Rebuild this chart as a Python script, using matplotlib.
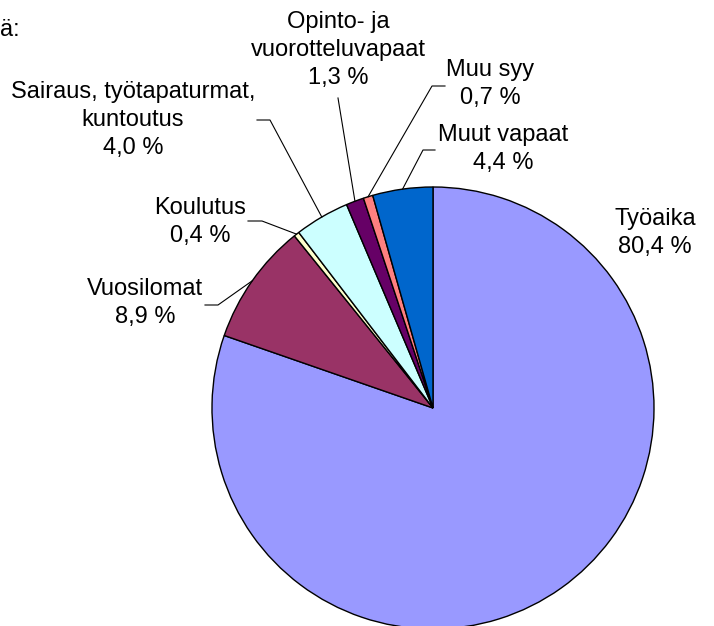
import matplotlib
matplotlib.use('Agg')
import matplotlib.pyplot as plt
import numpy as np

plt.rcParams['font.family'] = ['Liberation Sans', 'DejaVu Sans']

# Data
labels = ['Työaika', 'Vuosilomat', 'Koulutus', 'Sairaus, työtapaturmat,\nkuntoutus',
          'Opinto- ja\nvuorotteluvapaat', 'Muu syy', 'Muut vapaat']
values = [80.4, 8.9, 0.4, 4.0, 1.3, 0.7, 4.4]
pct_text = ['80,4 %', '8,9 %', '0,4 %', '4,0 %', '1,3 %', '0,7 %', '4,4 %']
colors = ['#9999FF', '#993366', '#FFFFCC', '#CCFFFF', '#660066', '#FF8080', '#0066CC']

W, H = 714, 626
fig = plt.figure(figsize=(W / 100, H / 100), dpi=100)
ax = fig.add_axes([0, 0, 1, 1])

cx, cy, r = 433, 626 - 408, 221
wedges, _ = ax.pie(values, colors=colors, startangle=90, counterclock=False,
                   center=(cx, cy), radius=r, frame=True,
                   wedgeprops=dict(edgecolor='black', linewidth=1.0))
ax.set_xlim(0, W)
ax.set_ylim(0, H)
ax.set_aspect('equal')
ax.axis('off')

# label positions (pixel coords from top) and leader elbows
label_pos = [(655, 233), (145, 303), (200, 222), (133, 120),
             (338, 50), (490, 84), (503, 149)]
leaders = [None,
           [(205, 305), (218, 305)],
           [(248, 221), (262, 221)],
           [(257, 120), (270, 120)],
           [(338, 98)],
           [(445, 86), (432, 86)],
           [(435, 150), (423, 150)]]

fs = 17
for w, lab, pt, pos, ld in zip(wedges, labels, pct_text, label_pos, leaders):
    ax.text(pos[0], H - pos[1], lab + '\n' + pt, ha='center', va='center',
            multialignment='center', fontsize=fs, linespacing=1.38)
    if ld is not None:
        mid = np.deg2rad((w.theta1 + w.theta2) / 2)
        xs = [p[0] for p in ld] + [cx + r * np.cos(mid)]
        ys = [H - p[1] for p in ld] + [cy + r * np.sin(mid)]
        ax.plot(xs, ys, color='black', linewidth=0.8)

ax.text(0, H - 30, 'ä:', ha='left', va='center', fontsize=fs)

fig.savefig('out.png', dpi=100)
